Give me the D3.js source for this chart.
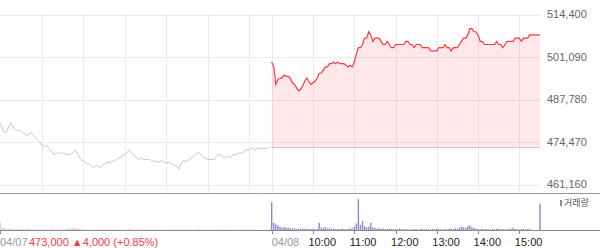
<!DOCTYPE html>
<html>
<head>
<meta charset="utf-8">
<script src="https://cdn.jsdelivr.net/npm/d3@7"></script>
<style>
body { margin: 0; background: #fff; }
text { font-family: "Liberation Sans", Arial, sans-serif; }
</style>
</head>
<body>
<script>
//two trading days, one sample every 3 minutes from 09:00 to 15:30
var days = ["04/07", "04/08"];
var timeTicks = ["10:00", "11:00", "12:00", "13:00", "14:00", "15:00"];
var priceTicks = [461160, 474470, 487780, 501090, 514400];
var prevClose = 473000, prevChange = 4000, prevChangePct = 0.85;

var day1Price = [
    480500, 479000, 477500, 477500, 479000, 480500, 479500, 478500, 478000, 478000,
    478000, 477500, 477000, 476500, 477000, 477500, 476500, 476000, 475000, 474500,
    473500, 473000, 473500, 473000, 472000, 471500, 470500, 471000, 471000, 471000,
    471000, 471000, 470500, 470500, 470500, 471000, 472000, 471000, 470000, 469000,
    468500, 468000, 467500, 467500, 467000, 466500, 467000, 467000, 466500, 467000,
    467500, 468000, 468000, 468000, 468500, 468500, 469000, 469500, 469500, 470500,
    470500, 471000, 472000, 471500, 470500, 470000, 469500, 469000, 469500, 469000,
    469000, 469000, 469000, 468500, 468500, 468500, 468000, 468500, 468500, 468000,
    468000, 468000, 468000, 467500, 467000, 467000, 466000, 467500, 468500, 468500,
    468500, 469000, 469500, 470000, 470500, 471000, 471000, 470500, 469500, 469500,
    469000, 469000, 469000, 469000, 470000, 470500, 470500, 470000, 469500, 470000,
    470000, 469500, 470500, 470500, 470500, 471000, 471000, 471000, 472000, 472000,
    472000, 472500, 472500, 472000, 472500, 472500, 472500, 472500, 472500, 472500,
    473000
];
var day2Price = [
    499500, 498000, 492500, 494000, 494500, 494500, 495500, 495000, 495000, 494500,
    493000, 492500, 491500, 490500, 491000, 492000, 493500, 494500, 493500, 492500,
    493000, 493500, 494500, 496000, 496000, 497000, 498000, 498000, 499000, 499000,
    499500, 499000, 499500, 499000, 499000, 499000, 498500, 498000, 498500, 498000,
    499500, 502000, 504000, 504000, 505000, 507000, 507000, 509000, 508000, 506000,
    507000, 507000, 507000, 506000, 505000, 505000, 506000, 505000, 504000, 504000,
    505000, 505000, 505000, 505000, 505000, 506000, 506000, 505000, 505000, 504000,
    505000, 505000, 505000, 504000, 504000, 504000, 504000, 503000, 503000, 503000,
    503000, 504000, 504000, 504000, 505000, 504000, 504000, 503000, 504000, 504000,
    504000, 505000, 506000, 507000, 507000, 508000, 510000, 510000, 509000, 509000,
    508000, 506000, 506000, 505000, 505000, 505000, 505000, 505000, 505000, 506000,
    505000, 505000, 504000, 505000, 506000, 506000, 506000, 506000, 507000, 507000,
    507000, 506000, 507000, 507000, 507000, 508000, 508000, 508000, 508000, 508000,
    508000
];
var day1Vol = [
    26000, 9000, 7000, 5000, 6000, 4000, 5000, 3000, 4000, 5000,
    3000, 4000, 3000, 5000, 4000, 3000, 3000, 4000, 2000, 3000,
    4000, 3000, 3000, 2000, 3000, 4000, 3000, 2000, 3000, 3000,
    4000, 3000, 5000, 7000, 6000, 8000, 6000, 7000, 5000, 4000,
    3000, 3000, 2000, 3000, 2000, 3000, 2000, 2000, 3000, 2000,
    2000, 3000, 2000, 2000, 3000, 2000, 3000, 2000, 2000, 3000,
    2000, 3000, 4000, 3000, 2000, 2000, 3000, 2000, 2000, 3000,
    2000, 2000, 3000, 2000, 2000, 3000, 2000, 2000, 2000, 3000,
    2000, 3000, 2000, 4000, 3000, 2000, 3000, 4000, 3000, 2000,
    3000, 2000, 3000, 2000, 3000, 4000, 3000, 2000, 2000, 3000,
    2000, 3000, 2000, 2000, 3000, 2000, 3000, 4000, 3000, 2000,
    3000, 2000, 3000, 2000, 2000, 3000, 2000, 3000, 2000, 3000,
    3000, 4000, 3000, 2000, 3000, 0, 0, 0, 0, 0,
    5000
];
var day2Vol = [
    88000, 24000, 19000, 15000, 12000, 9000, 11000, 8000, 9000, 7000,
    6000, 7000, 5000, 6000, 5000, 7000, 5000, 6000, 4000, 5000,
    6000, 4000, 5000, 24000, 9000, 7000, 11000, 6000, 8000, 5000,
    6000, 4000, 5000, 4000, 6000, 5000, 4000, 5000, 7000, 6000,
    12000, 22000, 98000, 18000, 30000, 14000, 10000, 12000, 24000, 9000,
    8000, 6000, 7000, 5000, 6000, 5000, 4000, 6000, 5000, 4000,
    5000, 4000, 6000, 4000, 3000, 5000, 4000, 3000, 4000, 5000,
    4000, 3000, 4000, 6000, 4000, 5000, 3000, 4000, 5000, 4000,
    6000, 5000, 4000, 3000, 5000, 4000, 6000, 5000, 4000, 7000,
    6000, 9000, 12000, 10000, 8000, 14000, 16000, 10000, 8000, 6000,
    5000, 4000, 6000, 4000, 5000, 4000, 3000, 5000, 4000, 5000,
    6000, 4000, 5000, 3000, 4000, 5000, 6000, 8000, 5000, 4000,
    3000, 5000, 4000, 3000, 5000, 4000, 0, 0, 0, 0,
    83000
];

window.onload = function(){
    var w = 600, h = 248;
    var step = 3; //minutes between samples
    var dayLen = 390; //09:00 - 15:30

    var svg = d3.select("body")
        .append("svg")
        .attr("width", w)
        .attr("height", h);

    //minute index -> x, second day starts just after the first
    var x = d3.scaleLinear()
        .domain([0, dayLen, dayLen + 2, 2 * dayLen + 2])
        .range([0, 270.2, 271.7, 540]);
    var dayStart = [0, dayLen + 2];

    var y = d3.scaleLinear()
        .domain([461160, 514400])
        .range([184.5, 14.5]);

    var yVol = d3.scaleLinear()
        .domain([0, 100000])
        .range([230.5, 198.5]);

    function pts(prices, vols, d){
        return prices.map(function(p, i){
            return { t: dayStart[d] + i * step, price: p, vol: vols[i] };
        });
    }
    var d1 = pts(day1Price, day1Vol, 0);
    var d2 = pts(day2Price, day2Vol, 1);

    //hour positions for the vertical grid
    var hours = [];
    [0, 1].forEach(function(d){
        for (var hr = 0; hr <= 6; hr++) {
            if (d == 0 && hr == 0) continue;
            hours.push(x(dayStart[d] + hr * 60));
        }
    });

    var grid = svg.append("g").attr("shape-rendering", "crispEdges");
    grid.selectAll(".hgrid")
        .data(priceTicks)
        .enter()
        .append("line")
        .attr("x1", 0).attr("x2", 540)
        .attr("y1", function(d){ return Math.round(y(d)) + 0.5; })
        .attr("y2", function(d){ return Math.round(y(d)) + 0.5; })
        .style("stroke", "#ebebeb");
    grid.selectAll(".vgrid")
        .data(hours)
        .enter()
        .append("line")
        .attr("x1", function(d){ return Math.round(d) + 0.5; })
        .attr("x2", function(d){ return Math.round(d) + 0.5; })
        .attr("y1", 14).attr("y2", 193)
        .style("stroke", "#ebebeb");

    //area + line of the second day against previous close
    var area = d3.area()
        .x(function(d){ return x(d.t); })
        .y0(y(prevClose))
        .y1(function(d){ return y(d.price); });
    svg.append("path")
        .datum(d2)
        .attr("d", area)
        .style("fill", "rgba(255,40,60,0.11)");

    svg.append("line")
        .attr("x1", x(dayStart[1])).attr("x2", 540)
        .attr("y1", Math.round(y(prevClose)) + 0.5)
        .attr("y2", Math.round(y(prevClose)) + 0.5)
        .style("stroke", "#999")
        .style("stroke-dasharray", "1,1");

    var line = d3.line()
        .x(function(d){ return x(d.t); })
        .y(function(d){ return y(d.price); });
    svg.append("path")
        .datum(d1)
        .attr("d", line)
        .style("fill", "none")
        .style("stroke", "#c9c9c9")
        .style("stroke-width", 1);
    svg.append("path")
        .datum(d2)
        .attr("d", line)
        .style("fill", "none")
        .style("stroke", "#ff3a3a")
        .style("stroke-width", 1.2);

    //price labels at right
    svg.selectAll(".ylab")
        .data(priceTicks)
        .enter()
        .append("text")
        .attr("x", 547)
        .attr("y", function(d){ return y(d); })
        .attr("dy", "0.35em")
        .style("font-size", "11px")
        .style("fill", "#666")
        .text(d3.format(","));

    //separator between price and volume panels
    svg.append("line")
        .attr("x1", 0).attr("x2", w)
        .attr("y1", 193.5).attr("y2", 193.5)
        .style("stroke", "#999");

    //volume bars
    var bars = svg.append("g");
    bars.selectAll(".v1")
        .data(d1)
        .enter()
        .append("rect")
        .attr("x", function(d){ return x(d.t) - 0.7; })
        .attr("width", 1.4)
        .attr("y", function(d){ return yVol(d.vol); })
        .attr("height", function(d){ return yVol(0) - yVol(d.vol); })
        .style("fill", "#c8c8c8");
    bars.selectAll(".v2")
        .data(d2)
        .enter()
        .append("rect")
        .attr("x", function(d){ return x(d.t) - 0.7; })
        .attr("width", 1.4)
        .attr("y", function(d){ return yVol(d.vol); })
        .attr("height", function(d){ return yVol(0) - yVol(d.vol); })
        .style("fill", "#9584cc");

    svg.append("line")
        .attr("x1", 0).attr("x2", w)
        .attr("y1", 230.5).attr("y2", 230.5)
        .attr("shape-rendering", "crispEdges")
        .style("stroke", "#888");

    //volume legend
    svg.append("rect")
        .attr("x", 560).attr("y", 200)
        .attr("width", 2).attr("height", 6)
        .style("fill", "#8e7cc3");
    svg.append("text")
        .attr("x", 564).attr("y", 203)
        .attr("dy", "0.35em")
        .style("font-family", "'Noto Sans CJK KR', sans-serif")
        .style("font-size", "9px")
        .style("fill", "#555")
        .text("거래량");

    //x axis ticks and labels
    var tickX = [x(dayStart[0]), x(dayStart[1])];
    timeTicks.forEach(function(t, i){ tickX.push(x(dayStart[1] + (i + 1) * 60)); });
    svg.selectAll(".tick")
        .data(tickX)
        .enter()
        .append("line")
        .attr("x1", function(d){ return Math.round(d) + 0.5; })
        .attr("x2", function(d){ return Math.round(d) + 0.5; })
        .attr("y1", 230).attr("y2", 234)
        .attr("shape-rendering", "crispEdges")
        .style("stroke", "#888");

    svg.selectAll(".dlab")
        .data(days)
        .enter()
        .append("text")
        .attr("x", function(d, i){ return x(dayStart[i]); })
        .attr("y", 246)
        .style("font-size", "11px")
        .style("fill", "#999")
        .text(function(d){ return d; });

    var fmt = d3.format(",");
    svg.append("text")
        .attr("x", 29)
        .attr("y", 246)
        .style("font-size", "11px")
        .style("fill", "#f23c3c")
        .text(fmt(prevClose) + " \u25B2" + fmt(prevChange) + " (+" + prevChangePct.toFixed(2) + "%)");

    svg.selectAll(".tlab")
        .data(timeTicks)
        .enter()
        .append("text")
        .attr("x", function(d, i){ return x(dayStart[1] + (i + 1) * 60) - 4.5; })
        .attr("y", 246)
        .style("font-size", "11px")
        .style("fill", "#222")
        .text(function(d){ return d; });
};
</script>
</body>
</html>
